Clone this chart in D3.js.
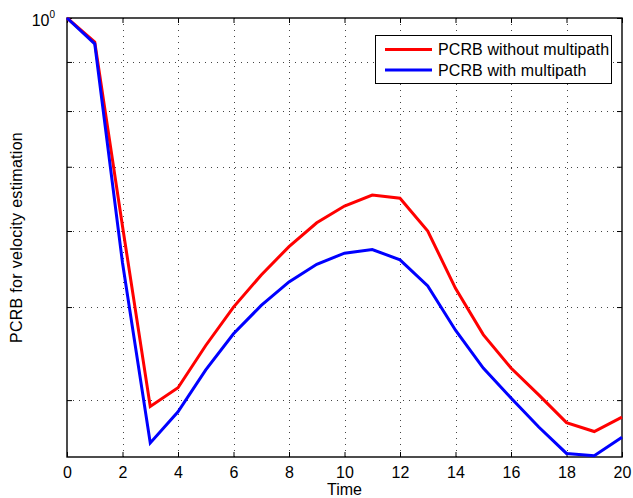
<!DOCTYPE html>
<html>
<head>
<meta charset="utf-8">
<script src="https://cdn.jsdelivr.net/npm/d3@7"></script>
<style>
  body { margin: 0; background: #fff; }
  text { font-family: "Liberation Sans", Arial, sans-serif; }
</style>
</head>
<body>
<div id="chart"></div>
<script>
/* Data */
const timeSteps = d3.range(0, 21);
const pcrbNoMultipath = [1.0, 0.944, 0.607, 0.394, 0.412, 0.456, 0.500, 0.540, 0.578, 0.612, 0.637,
                         0.654, 0.649, 0.600, 0.523, 0.468, 0.432, 0.405, 0.379, 0.371, 0.384];
const pcrbMultipath = [1.0, 0.940, 0.556, 0.361, 0.389, 0.430, 0.469, 0.502, 0.531, 0.554, 0.569,
                       0.574, 0.560, 0.526, 0.473, 0.432, 0.402, 0.375, 0.352, 0.350, 0.366];
const seriesNames = ["PCRB without multipath", "PCRB with multipath"];
const seriesColors = ["#ff0000", "#0000ff"];
const xTicks = d3.range(0, 21, 2);
const yMinorTicks = [0.4, 0.5, 0.6, 0.7, 0.8, 0.9];
const yDomain = [0.349, 1];

/* Dimensions */
const W = 633, H = 498;
const margin = { top: 18, right: 11, bottom: 41, left: 67 };
const width = W - margin.left - margin.right;
const height = H - margin.top - margin.bottom;

const svg = d3.select("#chart").append("svg")
    .attr("width", W).attr("height", H);
const g = svg.append("g")
    .attr("transform", `translate(${margin.left},${margin.top})`);

/* Scales */
const x = d3.scaleLinear().domain([0, 20]).range([0, width]);
const y = d3.scaleLog().domain(yDomain).range([height, 0]);

/* Dotted grid */
const grid = g.append("g").attr("class", "grid")
    .style("stroke", "#444").style("stroke-width", 1).style("stroke-dasharray", "1,5");
grid.selectAll(".vg").data(xTicks.filter(d => d > 0 && d < 20)).join("line")
    .attr("x1", d => Math.round(x(d)) + 0.5).attr("x2", d => Math.round(x(d)) + 0.5)
    .attr("y1", 0).attr("y2", height);
grid.selectAll(".hg").data(yMinorTicks).join("line")
    .attr("x1", 0).attr("x2", width)
    .attr("y1", d => Math.round(y(d)) + 0.5).attr("y2", d => Math.round(y(d)) + 0.5);

/* Axes: bottom/left with labels, top/right ticks only */
const tickLen = 5;
const axB = g.append("g").attr("transform", `translate(0,${height})`)
    .call(d3.axisBottom(x).tickValues(xTicks).tickSizeInner(-tickLen).tickSizeOuter(0).tickPadding(10));
const axT = g.append("g")
    .call(d3.axisTop(x).tickValues(xTicks).tickSizeInner(-tickLen).tickSizeOuter(0).tickFormat(""));
const axL = g.append("g")
    .call(d3.axisLeft(y).tickValues(yMinorTicks.concat([1])).tickSizeInner(-tickLen).tickSizeOuter(0).tickFormat(""));
const axR = g.append("g").attr("transform", `translate(${width},0)`)
    .call(d3.axisRight(y).tickValues(yMinorTicks.concat([1])).tickSizeInner(-tickLen).tickSizeOuter(0).tickFormat(""));
[axB, axT, axL, axR].forEach(a => {
    a.select(".domain").remove();
    a.selectAll("line").attr("stroke", "#000");
});
axB.selectAll("text").style("font-size", "16px").attr("fill", "#000").attr("dy", "0.68em");

/* Box */
g.append("rect")
    .attr("x", 0).attr("y", 0).attr("width", width).attr("height", height)
    .attr("fill", "none").attr("stroke", "#000").attr("stroke-width", 1.4);

/* 10^0 label */
const yLab = g.append("text")
    .attr("x", -12).attr("y", y(1) + 8)
    .attr("text-anchor", "end")
    .style("font-size", "16px");
yLab.append("tspan").text("10");
yLab.append("tspan").attr("dy", -8).style("font-size", "10px").text("0");

/* Lines */
const line = d3.line().x((d, i) => x(timeSteps[i])).y(d => y(d));
[pcrbNoMultipath, pcrbMultipath].forEach((s, i) => {
    g.append("path")
        .datum(s)
        .attr("fill", "none")
        .attr("stroke", seriesColors[i])
        .attr("stroke-width", 3)
        .attr("stroke-linejoin", "miter")
        .attr("d", line);
});

/* Axis titles */
svg.append("text")
    .attr("x", margin.left + width / 2).attr("y", 495)
    .attr("text-anchor", "middle").style("font-size", "16px")
    .text("Time");
svg.append("text")
    .attr("transform", "rotate(-90)")
    .attr("x", -(margin.top + height / 2)).attr("y", 22)
    .attr("text-anchor", "middle").style("font-size", "16px")
    .style("letter-spacing", "0.3px")
    .text("PCRB for velocity estimation");

/* Legend */
const lg = svg.append("g").attr("transform", "translate(375,35)");
lg.append("rect")
    .attr("x", 0.5).attr("y", 0.5).attr("width", 236).attr("height", 48)
    .attr("fill", "#fff").attr("stroke", "#000").attr("stroke-width", 1);
seriesNames.forEach((name, i) => {
    const ly = 14.5 + i * 20.5;
    lg.append("line")
        .attr("x1", 10).attr("x2", 57).attr("y1", ly).attr("y2", ly)
        .attr("stroke", seriesColors[i]).attr("stroke-width", 3);
    lg.append("text")
        .attr("x", 63).attr("y", ly + 5.5)
        .style("font-size", "16px")
        .style("letter-spacing", "0.1px")
        .text(name);
});
</script>
</body>
</html>
